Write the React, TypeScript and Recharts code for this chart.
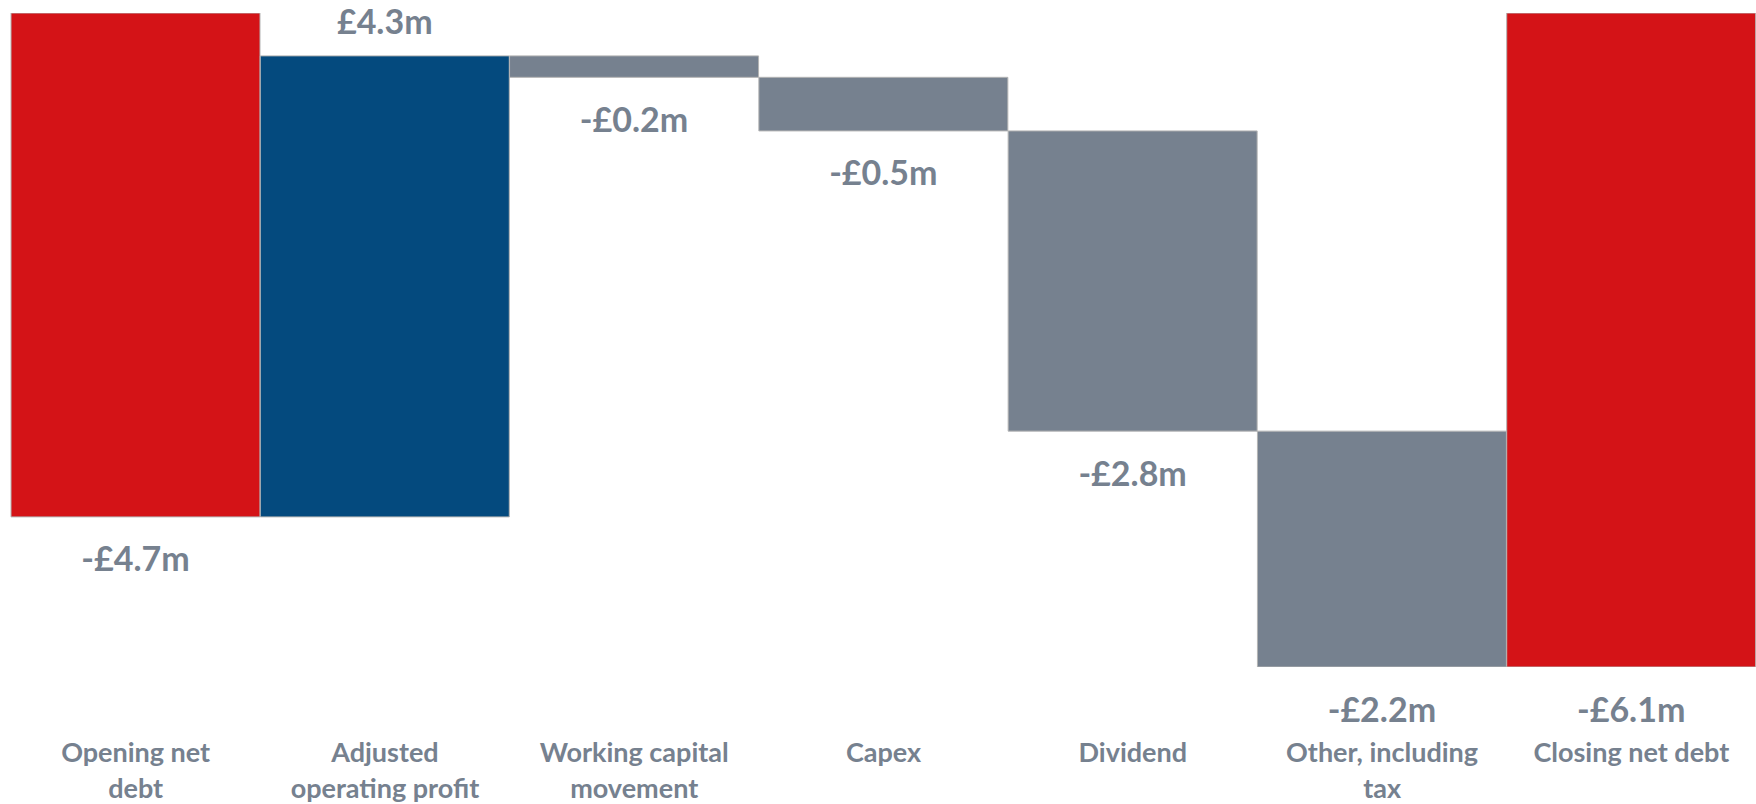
import { Bar, BarChart, Cell, XAxis, YAxis } from "recharts";

const categories = [
  "Opening net\ndebt",
  "Adjusted\noperating profit",
  "Working capital\nmovement",
  "Capex",
  "Dividend",
  "Other, including\ntax",
  "Closing net debt",
];
const changes = [-4.7, 4.3, -0.2, -0.5, -2.8, -2.2, -6.1];
const kinds = ["total", "up", "down", "down", "down", "down", "total"];

const colors: Record<string, string> = {
  total: "#D41317",
  up: "#044A7E",
  down: "#76818F",
};
const textColor = "#76818F";
const font = "Lato, 'Open Sans', sans-serif";

let running = 0;
const data = categories.map((name, i) => {
  let range: [number, number];
  if (kinds[i] === "total") {
    range = [0, changes[i]];
    running = changes[i];
  } else {
    range = [running, running + changes[i]];
    running = running + changes[i];
  }
  return { name, range, change: changes[i], kind: kinds[i] };
});

const fmt = (v: number) =>
  v < 0 ? `-£${Math.abs(v).toFixed(1)}m` : `£${v.toFixed(1)}m`;

function ValueLabel(props: any) {
  const { x, y, width, height, index } = props;
  const v = changes[index];
  const top = Math.min(y, y + height);
  const bottom = Math.max(y, y + height);
  const cy = v > 0 ? top - 35 : bottom + 41;
  return (
    <text
      x={x + width / 2}
      y={cy}
      textAnchor="middle"
      dominantBaseline="central"
      fill={textColor}
      fontFamily={font}
      fontWeight={700}
      fontSize={34}
    >
      {fmt(v)}
    </text>
  );
}

function CategoryTick(props: any) {
  const { x, y, payload } = props;
  const lines = String(payload.value).split("\n");
  return (
    <text
      x={x}
      y={y}
      textAnchor="middle"
      fill={textColor}
      fontFamily={font}
      fontWeight={700}
      fontSize={27}
    >
      {lines.map((line, i) => (
        <tspan key={i} x={x} y={y + 84 + i * 36} dominantBaseline="central">
          {line}
        </tspan>
      ))}
    </text>
  );
}

export default function App() {
  return (
    <div style={{ position: "absolute", left: 0, top: 0, background: "#fff" }}>
      <BarChart
        width={1756}
        height={804}
        data={data}
        margin={{ top: 13, right: 0, left: 11, bottom: 0 }}
        barCategoryGap={0}
        barGap={0}
      >
        <XAxis
          dataKey="name"
          axisLine={false}
          tickLine={false}
          tickSize={0}
          tickMargin={0}
          interval={0}
          height={137}
          tick={<CategoryTick />}
        />
        <YAxis hide domain={[-6.1, 0]} allowDataOverflow />
        <Bar
          dataKey="range"
          isAnimationActive={false}
          stroke="#B4B4B4"
          strokeWidth={1}
          label={<ValueLabel />}
        >
          {data.map((d, i) => (
            <Cell key={i} fill={colors[d.kind]} />
          ))}
        </Bar>
      </BarChart>
    </div>
  );
}
